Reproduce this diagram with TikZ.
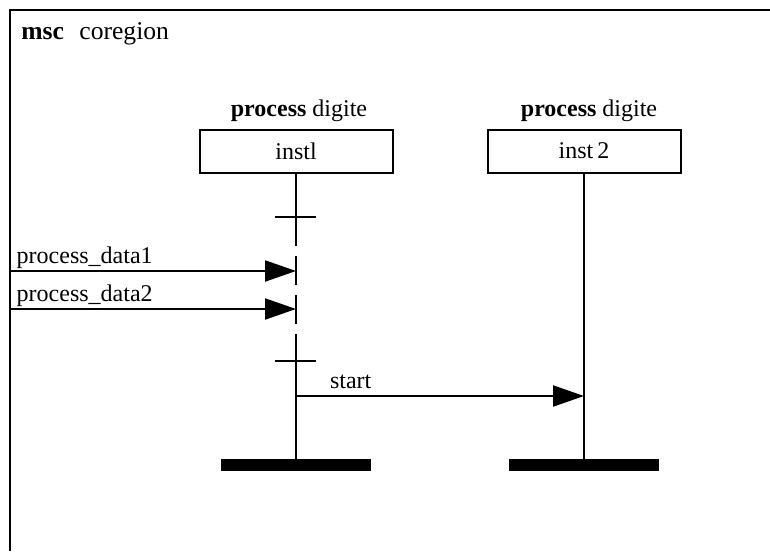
\documentclass[tikz,border=0pt]{standalone}
\usepackage{fontspec}
\setmainfont{Liberation Serif}
\usetikzlibrary{arrows.meta,positioning}

\begin{document}
\begin{tikzpicture}[
        x=0.5pt, y=-0.5pt,
        font=\fontsize{12}{14}\selectfont,
        frame/.style={line width=1.4pt},
        inst/.style={draw, line width=1pt, minimum width=96.5pt, minimum height=21.5pt, inner sep=0pt},
        head/.style={inner sep=3.3pt},
        life/.style={line width=1.1pt},
        endbar/.style={fill=black, minimum width=75pt, minimum height=6pt, inner sep=0pt},
        msg/.style={line width=1.1pt, -{Triangle[length=15.5pt, width=10.5pt]}},
        lbl/.style={inner sep=0.8pt}
    ]
        \useasboundingbox (0,0) rectangle (770,551);
        \draw[frame] (10,551) -- (10,10) -- (770,10);
        \node[anchor=base west, inner sep=0pt, font=\fontsize{12.8}{15}\selectfont] (title) at (21,40) {\textbf{msc}\hspace{0.6em}coregion};

        \node[inst] (i1) at (296,151) {instl};
        \node[inst] (i2) at (584,151) {inst\,2};
        \node[head, above=0pt of i1, xshift=1.5pt] (h1) {\textbf{process} digite};
        \node[head, above=0pt of i2, xshift=2.5pt] (h2) {\textbf{process} digite};

        \node[endbar] (e1) at (296,465) {};
        \node[endbar] (e2) at (584,465) {};

        % coregion on instl
        \coordinate (c1) at (296,217);
        \coordinate (c2) at (296,361);
        \draw[life] (i1) -- (c1);
        \draw[life, dash pattern=on 14.5pt off 5pt] (c1) -- (c2);
        \draw[life] (c2) -- (e1);
        \draw[life] (c1) +(-21,0) -- +(20,0);
        \draw[life] (c2) +(-21,0) -- +(20,0);
        \draw[life] (i2) -- (e2);

        % messages
        \coordinate (in1) at (10,271);
        \coordinate (in2) at (10,309);
        \coordinate (s1) at (296,396);
        \draw[msg] (in1) -- node[lbl, anchor=south west, pos=0, xshift=2pt]{process\_data1} (in1 -| i1);
        \draw[msg] (in2) -- node[lbl, anchor=south west, pos=0, xshift=2pt]{process\_data2} (in2 -| i1);
        \draw[msg] (s1) -- node[above, pos=0.19]{start} (s1 -| i2);
    \end{tikzpicture}
\end{document}
